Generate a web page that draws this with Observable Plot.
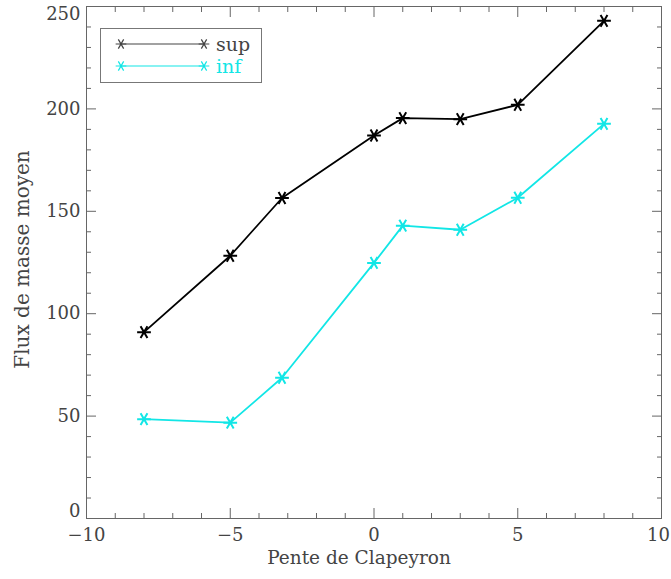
<!DOCTYPE html>
<html><head><meta charset="utf-8">
<script src="https://cdn.jsdelivr.net/npm/d3@7"></script>
<script src="https://cdn.jsdelivr.net/npm/@observablehq/plot@0.6"></script>
<style>
body{margin:0;background:#fff;}
#wrap{position:relative;width:671px;height:579px;overflow:hidden;}
#legend{position:absolute;left:100px;top:28px;}
</style></head><body><div id="wrap"></div>
<script>
const pente = [-8, -5, -3.2, 0, 1, 3, 5, 8];
const fluxSup = [91, 128.3, 156.5, 187, 195.5, 195, 202, 243];
const fluxInf = [48.5, 46.8, 68.7, 124.8, 143, 141, 156.6, 192.7];
const seriesNames = ["sup", "inf"];
const seriesColors = ["#000000", "#12e6e6"];
const xMajorTicks = [-10, -5, 0, 5, 10];
const xMinorTicks = [-9, -8, -7, -6, -4, -3, -2, -1, 1, 2, 3, 4, 6, 7, 8, 9];
const yMajorTicks = [0, 50, 100, 150, 200, 250];
const yMinorTicks = [10, 20, 30, 40, 60, 70, 80, 90, 110, 120, 130, 140, 160, 170, 180, 190, 210, 220, 230, 240];
const xTitle = "Pente de Clapeyron";
const yTitle = "Flux de masse moyen";

const rows = [];
pente.forEach((x, i) => rows.push({x, y: fluxSup[i], s: seriesNames[0]}));
pente.forEach((x, i) => rows.push({x, y: fluxInf[i], s: seriesNames[1]}));

const axisColor = "#666";
const textColor = "#444";
const font = "DejaVu Serif";
const noText = () => "";

const chart = Plot.plot({
  width: 671, height: 579,
  marginLeft: 86, marginRight: 10, marginTop: 6, marginBottom: 61,
  x: {domain: [-10, 10], label: null},
  y: {domain: [0, 250], label: null},
  color: {domain: seriesNames, range: seriesColors},
  style: {fontFamily: font, fontSize: "18px", color: textColor, background: "white", overflow: "visible"},
  marks: [
    Plot.frame({stroke: axisColor}),
    Plot.axisX(xMinorTicks, {tickSize: -5, tickFormat: noText, stroke: axisColor, label: null}),
    Plot.axisX(xMajorTicks, {tickSize: -10, tickFormat: noText, stroke: axisColor, label: null}),
    Plot.axisX(xMinorTicks, {anchor: "top", tickSize: -5, tickFormat: noText, stroke: axisColor, label: null}),
    Plot.axisX(xMajorTicks, {anchor: "top", tickSize: -10, tickFormat: noText, stroke: axisColor, label: null}),
    Plot.axisY(yMinorTicks, {tickSize: -5, tickFormat: noText, stroke: axisColor, label: null}),
    Plot.axisY(yMajorTicks, {tickSize: -10, tickFormat: noText, stroke: axisColor, label: null}),
    Plot.axisY(yMinorTicks, {anchor: "right", tickSize: -5, tickFormat: noText, stroke: axisColor, label: null}),
    Plot.axisY(yMajorTicks, {anchor: "right", tickSize: -10, tickFormat: noText, stroke: axisColor, label: null}),
    Plot.axisX(xMajorTicks.slice(0, -1), {tickSize: 0, tickPadding: 10, label: null, fill: textColor}),
    Plot.axisX(xMajorTicks.slice(-1), {tickSize: 0, tickPadding: 10, label: null, fill: textColor, dx: -3}),
    Plot.axisY(yMajorTicks.slice(1, -1), {tickSize: 0, tickPadding: 6, label: null, fill: textColor}),
    Plot.axisY(yMajorTicks.slice(0, 1), {tickSize: 0, tickPadding: 6, label: null, fill: textColor, dy: -7}),
    Plot.axisY(yMajorTicks.slice(-1), {tickSize: 0, tickPadding: 6, label: null, fill: textColor, dy: 8}),
    Plot.text([xTitle], {frameAnchor: "bottom", dy: 45, dx: -15, fill: textColor, fontSize: 18.5}),
    Plot.text([yTitle], {frameAnchor: "left", textAnchor: "middle", dx: -64, dy: -3, rotate: -90, fill: textColor, fontSize: 20}),
    Plot.line(rows, {x: "x", y: "y", z: "s", stroke: "s", strokeWidth: 1.8}),
    Plot.dot(rows, {x: "x", y: "y", stroke: "s", symbol: "asterisk", r: 6.5, rotate: 90, strokeWidth: 2})
  ]
});
const wrap = document.getElementById("wrap");
wrap.appendChild(chart);

// Legend overlay
const lw = 162, lh = 55;
const leg = d3.select(wrap).append("svg").attr("id", "legend").attr("width", lw).attr("height", lh);
leg.append("rect").attr("x", 0.5).attr("y", 0.5).attr("width", lw - 1).attr("height", lh - 1)
  .attr("fill", "white").attr("stroke", "#777");
const legendLine = ["#444", seriesColors[1]];
seriesNames.forEach((name, i) => {
  const yy = 16 + i * 22;
  const g = leg.append("g");
  g.append("line").attr("x1", 21).attr("x2", 104).attr("y1", yy).attr("y2", yy)
    .attr("stroke", legendLine[i]).attr("stroke-width", 1.2);
  [21, 104].forEach(cx => {
    g.append("path").attr("d", d3.symbol(d3.symbolAsterisk, 80)())
      .attr("transform", `translate(${cx},${yy}) rotate(90)`)
      .attr("stroke", legendLine[i]).attr("fill", "none").attr("stroke-width", 1.2);
  });
  g.append("text").attr("x", 116).attr("y", yy).attr("dy", "0.35em")
    .attr("font-family", font).attr("font-size", 19).attr("fill", i === 0 ? textColor : seriesColors[1])
    .text(name);
});
</script></body></html>
